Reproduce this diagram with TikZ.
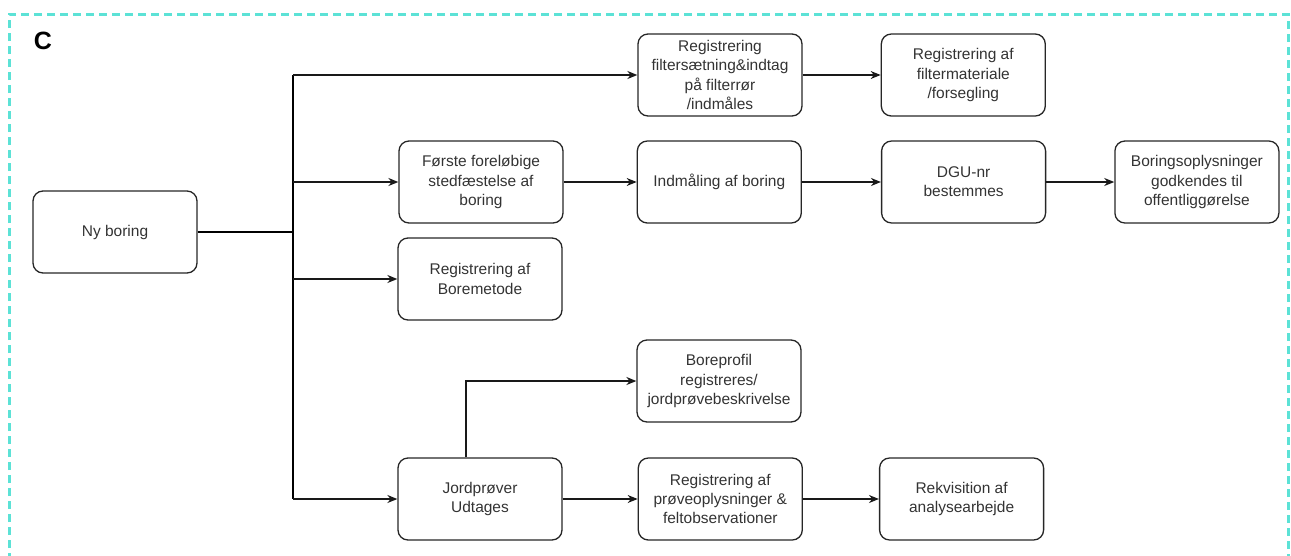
\documentclass[tikz,border=0pt]{standalone}
\usepackage{fontspec}
\setmainfont{Liberation Sans}
\usetikzlibrary{arrows.meta,positioning}

\definecolor{framecol}{RGB}{92,226,214}

\tikzset{
  box/.style={draw=black!85, line width=1.3pt, rounded corners=10pt,
    minimum width=164pt, minimum height=82pt, align=center, inner sep=0pt,
    text=black!80, font=\fontsize{15.5}{19.3}\selectfont},
  arr/.style={-{Stealth[length=10pt,width=8pt]}, line width=1.3pt, draw=black!90},
  frame/.style={draw=framecol, line width=3pt, dash pattern=on 8pt off 5pt},
}

\begin{document}
\begin{tikzpicture}[x=1pt,y=-1pt]
    \useasboundingbox (0,0) rectangle (1291,555);
    \draw[frame] (9,600) -- (9,14) -- (1288,14) -- (1288,600);
    \node[font=\fontsize{25}{25}\selectfont\bfseries] (lbl) at (43,41) {C};

    % start
    \node[box] (ny) at (115,232) {Ny boring};

    % top row
    \node[box] (filtsaet) at (720,75) {Registrering\\filtersætning\&indtag\\på filterrør\\/indmåles};
    \node[box, right=78pt of filtsaet] (filtmat) {Registrering af\\filtermateriale\\/forsegling};

    % second row
    \node[box] (stedf) at (481,182) {Første foreløbige\\stedfæstelse af\\boring};
    \node[box, right=73pt of stedf] (indmaal) {Indmåling af boring};
    \node[box, right=79pt of indmaal] (dgu) {DGU-nr\\bestemmes};
    \node[box, right=68pt of dgu] (godk) {Boringsoplysninger\\godkendes til\\offentliggørelse};

    \node[box] (boremet) at (480,279) {Registrering af\\Boremetode};

    % soil samples
    \node[box] (boreprof) at (719,381) {Boreprofil\\registreres/\\jordprøvebeskrivelse};
    \node[box] (jordpr) at (480,499) {Jordprøver\\Udtages};
    \node[box, right=75pt of jordpr] (provopl) {Registrering af\\prøveoplysninger \&\\feltobservationer};
    \node[box, right=76pt of provopl] (rekv) {Rekvisition af\\analysearbejde};

    % trunk
    \coordinate (tr) at (293,232);
    \draw[line width=2.4pt] (ny.east) -- (tr);
    \draw[line width=1.3pt] (tr |- filtsaet) -- (tr |- jordpr);
    \draw[arr] (tr |- filtsaet) -- (filtsaet);
    \draw[arr] (tr |- stedf) -- (stedf);
    \draw[arr] (tr |- boremet) -- (boremet);
    \draw[arr] (tr |- jordpr) -- (jordpr);

    \draw[arr] (filtsaet) -- (filtmat);
    \draw[arr] (stedf) -- (indmaal);
    \draw[arr] (indmaal) -- (dgu);
    \draw[arr] (dgu) -- (godk);
    \draw[arr] ([xshift=-14pt]jordpr.north) |- (boreprof);
    \draw[arr] (jordpr) -- (provopl);
    \draw[arr] (provopl) -- (rekv);
\end{tikzpicture}
\end{document}
